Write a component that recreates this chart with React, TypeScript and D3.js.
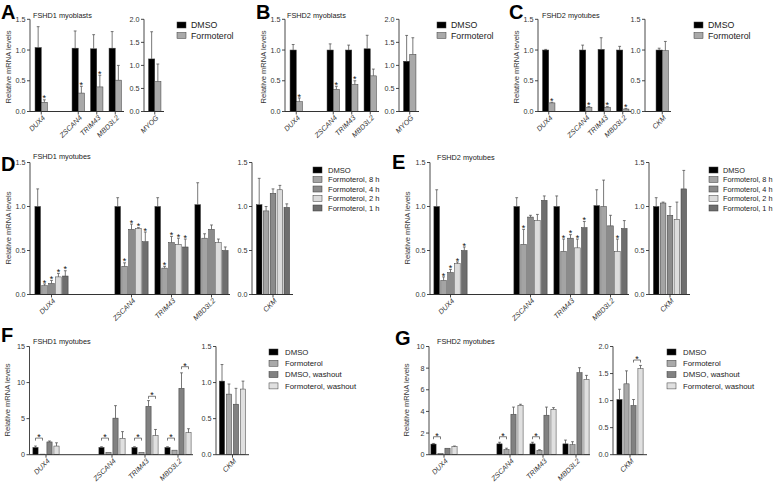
import React from "react";
import * as d3 from "d3";

const FONT = "'Liberation Sans', Arial, Helvetica, sans-serif";

// ---------- categories, series, ticks ----------
const mainGenes = ["DUX4", "ZSCAN4", "TRIM43", "MBD3L2"];
const mainSlots = ["DUX4", "", "ZSCAN4", "TRIM43", "MBD3L2"];
const subMyog = ["MYOG"];
const subCkm = ["CKM"];

const seriesTwo = ["DMSO", "Formoterol"];
const seriesTime = ["DMSO", "Formoterol, 8 h", "Formoterol, 4 h", "Formoterol, 2 h", "Formoterol, 1 h"];
const seriesWash = ["DMSO", "Formoterol", "DMSO, washout", "Formoterol, washout"];

const colorsTwo = ["#000000", "#a9a9a9"];
const colorsTime = ["#000000", "#a4a4a4", "#8b8b8b", "#dcdcdc", "#6e6e6e"];
const colorsWash = ["#000000", "#a9a9a9", "#818181", "#e0e0e0"];

const ticks15 = [0, 0.5, 1.0, 1.5];
const ticks20 = [0, 0.5, 1.0, 1.5, 2.0];
const ticksF = [0, 5, 10, 15];
const ticksG = [0, 2, 4, 6, 8, 10];

// ---------- A: FSHD1 myoblasts ----------
const aMeans = [[1.04, 0.15], [1.03, 0.3], [1.02, 0.4], [1.03, 0.51]];
const aErr = [[1.38, 0.19], [1.31, 0.41], [1.25, 0.59], [1.3, 0.75]];
const aStars = [[0, 1], [0, 1], [0, 1], [0, 0]];
const aSubMeans = [[1.14, 0.65]];
const aSubErr = [[1.73, 1.03]];

// ---------- B: FSHD2 myoblasts ----------
const bMeans = [[1.0, 0.16], [1.0, 0.36], [1.0, 0.44], [1.02, 0.58]];
const bErr = [[1.09, 0.22], [1.1, 0.41], [1.08, 0.5], [1.24, 0.69]];
const bStars = [[0, 1], [0, 1], [0, 1], [0, 0]];
const bSubMeans = [[1.09, 1.24]];
const bSubErr = [[1.65, 1.6]];

// ---------- C: FSHD2 myotubes ----------
const cMeans = [[1.0, 0.14], [1.0, 0.07], [1.01, 0.07], [1.0, 0.04]];
const cErr = [[1.01, 0.15], [1.08, 0.08], [1.2, 0.08], [1.06, 0.05]];
const cStars = [[0, 1], [0, 1], [0, 1], [0, 1]];
const cSubMeans = [[1.0, 0.99]];
const cSubErr = [[1.03, 1.14]];

// ---------- D: FSHD1 myotubes, time course ----------
const dMeans = [
  [1.0, 0.1, 0.125, 0.2, 0.21],
  [1.0, 0.32, 0.74, 0.75, 0.6],
  [1.0, 0.3, 0.59, 0.57, 0.54],
  [1.02, 0.64, 0.74, 0.59, 0.5],
];
const dErr = [
  [1.2, 0.12, 0.16, 0.24, 0.27],
  [1.1, 0.36, 0.8, 0.76, 0.71],
  [1.1, 0.32, 0.66, 0.64, 0.63],
  [1.27, 0.69, 0.79, 0.63, 0.54],
];
const dStars = [
  [0, 1, 1, 1, 1],
  [0, 1, 1, 1, 1],
  [0, 1, 1, 1, 1],
  [0, 0, 0, 0, 0],
];
const dSubMeans = [[1.02, 0.95, 1.15, 1.19, 0.99]];
const dSubErr = [[1.32, 1.0, 1.2, 1.24, 1.03]];

// ---------- E: FSHD2 myotubes, time course ----------
const eMeans = [
  [1.0, 0.16, 0.25, 0.35, 0.5],
  [1.0, 0.57, 0.88, 0.84, 1.07],
  [1.0, 0.49, 0.64, 0.53, 0.76],
  [1.01, 1.0, 0.78, 0.49, 0.75],
];
const eErr = [
  [1.19, 0.2, 0.285, 0.37, 0.54],
  [1.1, 0.74, 0.9, 0.91, 1.12],
  [1.12, 0.63, 0.68, 0.63, 0.83],
  [1.19, 1.3, 0.9, 0.63, 0.84],
];
const eStars = [
  [0, 1, 1, 1, 1],
  [0, 1, 0, 0, 0],
  [0, 1, 1, 1, 1],
  [0, 0, 0, 1, 0],
];
const eSubMeans = [[1.0, 1.04, 0.9, 0.855, 1.2]];
const eSubErr = [[1.1, 1.05, 1.0, 1.05, 1.41]];

// ---------- F: FSHD1 myotubes, washout ----------
const fMeans = [[1.0, 0.08, 1.77, 1.2], [1.0, 0.33, 5.07, 2.28], [1.0, 0.33, 6.7, 2.65], [1.0, 0.63, 9.2, 3.05]];
const fErr = [[1.2, 0.08, 1.9, 1.65], [1.1, 0.33, 6.8, 3.2], [1.1, 0.33, 7.5, 3.5], [1.1, 0.63, 11.35, 3.6]];
// [gene, series i, series j, level]
const fBrackets = [[0, 0, 1, 2.3], [1, 0, 1, 2.3], [2, 0, 1, 2.3], [2, 2, 3, 8.1], [3, 0, 1, 2.3], [3, 2, 3, 12.2]];
const fSubMeans = [[1.02, 0.84, 0.7, 0.91]];
const fSubErr = [[1.25, 0.98, 0.92, 1.02]];

// ---------- G: FSHD2 myotubes, washout ----------
const gMeans = [[0.98, 0.12, 0.6, 0.74], [1.0, 0.48, 3.74, 4.57], [1.0, 0.4, 3.65, 4.2], [1.0, 0.92, 7.58, 6.96]];
const gErr = [[1.04, 0.12, 0.64, 0.8], [1.15, 0.6, 4.4, 4.66], [1.15, 0.46, 4.4, 4.35], [1.35, 1.2, 8.04, 7.33]];
const gBrackets = [[0, 0, 1, 1.66], [1, 0, 1, 1.66], [2, 0, 1, 1.66]];
const gSubMeans = [[1.02, 1.31, 0.91, 1.59]];
const gSubErr = [[1.21, 1.55, 1.02, 1.65]];
const gSubBrackets = [[0, 2, 3, 1.75]];

const AX = "#333";
const fmt1 = d3.format(".1f");
const fmt0 = d3.format("d");

function Block(props: any) {
  const { cats, slots, means, err, stars, brackets, ticks, fmt, lay, colors } = props;
  const y = d3.scaleLinear().domain([0, ticks[ticks.length - 1]]).range([lay.y0, lay.yTop]);
  const x = d3.scaleBand<string>().domain(slots).range([lay.r0, lay.r1]);
  const n = colors.length;
  const gw = (n - 1) * lay.pitch + lay.barW;
  const left = (gi: number, si: number) => (x(cats[gi]) as number) + (x.bandwidth() - gw) / 2 + si * lay.pitch;
  const mid = (gi: number, si: number) => left(gi, si) + lay.barW / 2;
  const center = (gi: number) => (x(cats[gi]) as number) + x.bandwidth() / 2;
  const y0 = y(0);
  return (
    <g>
      {means.map((row: number[], gi: number) =>
        row.map((v: number, si: number) => {
          const e = err[gi][si];
          const cx = mid(gi, si);
          const hasErr = y(v) - y(e) > 0.6;
          const top = Math.min(y(v), y(e));
          return (
            <g key={`${gi}-${si}`}>
              <rect x={left(gi, si)} y={y(v)} width={lay.barW} height={y0 - y(v)} fill={colors[si]} stroke="#3a3a3a" strokeWidth={0.5} />
              {hasErr && (
                <g stroke="#555" strokeWidth={0.8}>
                  <line x1={cx} x2={cx} y1={y(v)} y2={y(e)} />
                  <line x1={cx - 1.4} x2={cx + 1.4} y1={y(e)} y2={y(e)} />
                </g>
              )}
              {stars && stars[gi][si] ? (
                <text x={cx} y={top + 1.6} fontSize={9} textAnchor="middle" fill="#111" fontFamily={FONT}>*</text>
              ) : null}
            </g>
          );
        })
      )}
      {(brackets || []).map((b: number[], k: number) => {
        const x1 = mid(b[0], b[1]);
        const x2 = mid(b[0], b[2]);
        const yl = y(b[3]);
        return (
          <g key={`b${k}`}>
            <path d={`M${x1},${yl + 2.5}V${yl}H${x2}V${yl + 2.5}`} fill="none" stroke="#444" strokeWidth={0.7} />
            <text x={(x1 + x2) / 2} y={yl + 2} fontSize={9} textAnchor="middle" fill="#111" fontFamily={FONT}>*</text>
          </g>
        );
      })}
      {/* y axis */}
      <line x1={lay.axisX} x2={lay.axisX} y1={y0} y2={y(ticks[ticks.length - 1])} stroke={AX} strokeWidth={0.9} />
      {ticks.map((t: number) => (
        <g key={`t${t}`}>
          <line x1={lay.axisX - 3} x2={lay.axisX} y1={y(t)} y2={y(t)} stroke={AX} strokeWidth={0.9} />
          <text x={lay.axisX - 4.5} y={y(t)} dy="0.35em" fontSize={7.2} textAnchor="end" fill="#333" fontFamily={FONT}>
            {fmt(t)}
          </text>
        </g>
      ))}
      {/* x axis */}
      <line x1={lay.axisX} x2={lay.axisEnd} y1={y0} y2={y0} stroke={AX} strokeWidth={1} />
      {cats.map((c: string, gi: number) => (
        <g key={c}>
          <line x1={center(gi)} x2={center(gi)} y1={y0} y2={y0 + 3} stroke={AX} strokeWidth={0.9} />
          <text
            transform={`translate(${center(gi) + 2.5},${y0 + 5}) rotate(-45)`}
            dy="0.35em"
            fontSize={7.2}
            fontStyle="italic"
            textAnchor="end"
            fill="#333"
            fontFamily={FONT}
          >
            {c}
          </text>
        </g>
      ))}
    </g>
  );
}

function Legend({ labels, colors, x, y, dy, tdx, fs }: any) {
  return (
    <g>
      {labels.map((l: string, i: number) => (
        <g key={l}>
          <rect x={x} y={y + i * dy - 3} width={9} height={6} fill={colors[i]} stroke="#3a3a3a" strokeWidth={0.5} />
          <text x={x + tdx} y={y + i * dy} dy="0.35em" fontSize={fs} fill="#222" fontFamily={FONT}>
            {l}
          </text>
        </g>
      ))}
    </g>
  );
}

function Panel(props: any) {
  const { letter, letterPos, title, titlePos, ylabelPos, main, sub, legend } = props;
  return (
    <g>
      <text x={letterPos[0]} y={letterPos[1]} fontSize={20} fontWeight="bold" fontFamily={FONT} fill="#000">
        {letter}
      </text>
      <text x={titlePos[0]} y={titlePos[1]} fontSize={7.3} fontFamily={FONT} fill="#222">
        {title}
      </text>
      <text
        transform={`translate(${ylabelPos[0]},${ylabelPos[1]}) rotate(-90)`}
        dy="0.35em"
        textAnchor="middle"
        fontSize={7.6}
        fontFamily={FONT}
        fill="#333"
      >
        Relative mRNA levels
      </text>
      <Block {...main} />
      <Block {...sub} />
      <Legend {...legend} />
    </g>
  );
}

const TOP = { y0: 111.5, yTop: 19.3 };
const MID = { y0: 294.5, yTop: 162.5 };
const BOT = { y0: 454.7, yTop: 346.5 };

export default function App() {
  const two = { barW: 6.2, pitch: 6.2 };
  const five = { barW: 5.6, pitch: 6.9 };
  const four = { barW: 5.2, pitch: 7 };
  return (
    <svg width={778} height={484} style={{ position: "absolute", left: 0, top: 0, background: "#fff" }}>
      <rect width={778} height={484} fill="#fff" />
      {/* A */}
      <Panel
        letter="A" letterPos={[1, 18.5]} title="FSHD1 myoblasts" titlePos={[33, 17.5]} ylabelPos={[8, 67]}
        main={{ cats: mainGenes, slots: mainSlots, means: aMeans, err: aErr, stars: aStars, ticks: ticks15, fmt: fmt1, colors: colorsTwo,
          lay: { ...TOP, ...two, axisX: 30, r0: 32, r1: 124.5, axisEnd: 124 } }}
        sub={{ cats: subMyog, slots: subMyog, means: aSubMeans, err: aSubErr, ticks: ticks20, fmt: fmt1, colors: colorsTwo,
          lay: { ...TOP, ...two, axisX: 144, r0: 145.5, r1: 164, axisEnd: 164 } }}
        legend={{ labels: seriesTwo, colors: colorsTwo, x: 177, y: 25, dy: 10.5, tdx: 14, fs: 8.8 }}
      />
      {/* B */}
      <Panel
        letter="B" letterPos={[256, 18.5]} title="FSHD2 myoblasts" titlePos={[287, 17.5]} ylabelPos={[263, 67]}
        main={{ cats: mainGenes, slots: mainSlots, means: bMeans, err: bErr, stars: bStars, ticks: ticks15, fmt: fmt1, colors: colorsTwo,
          lay: { ...TOP, ...two, axisX: 285, r0: 287, r1: 379.5, axisEnd: 379 } }}
        sub={{ cats: subMyog, slots: subMyog, means: bSubMeans, err: bSubErr, ticks: ticks20, fmt: fmt1, colors: colorsTwo,
          lay: { ...TOP, ...two, axisX: 399, r0: 400.5, r1: 419, axisEnd: 419 } }}
        legend={{ labels: seriesTwo, colors: colorsTwo, x: 437, y: 25, dy: 10.5, tdx: 14, fs: 8.8 }}
      />
      {/* C */}
      <Panel
        letter="C" letterPos={[509, 18.5]} title="FSHD2 myotubes" titlePos={[542, 17.5]} ylabelPos={[516, 67]}
        main={{ cats: mainGenes, slots: mainSlots, means: cMeans, err: cErr, stars: cStars, ticks: ticks15, fmt: fmt1, colors: colorsTwo,
          lay: { ...TOP, ...two, axisX: 538, r0: 539.5, r1: 632, axisEnd: 631 } }}
        sub={{ cats: subCkm, slots: subCkm, means: cSubMeans, err: cSubErr, ticks: ticks15, fmt: fmt1, colors: colorsTwo,
          lay: { ...TOP, ...two, axisX: 645, r0: 653, r1: 671.5, axisEnd: 671 } }}
        legend={{ labels: seriesTwo, colors: colorsTwo, x: 694, y: 25, dy: 10.5, tdx: 14, fs: 8.8 }}
      />
      {/* D */}
      <Panel
        letter="D" letterPos={[1, 171]} title="FSHD1 myotubes" titlePos={[33, 159]} ylabelPos={[8, 228]}
        main={{ cats: mainGenes, slots: mainSlots, means: dMeans, err: dErr, stars: dStars, ticks: ticks15, fmt: fmt1, colors: colorsTime,
          lay: { ...MID, ...five, axisX: 30, r0: 31.5, r1: 231.5, axisEnd: 230 } }}
        sub={{ cats: subCkm, slots: subCkm, means: dSubMeans, err: dSubErr, ticks: ticks15, fmt: fmt1, colors: colorsTime,
          lay: { ...MID, ...five, axisX: 252, r0: 253, r1: 293, axisEnd: 293 } }}
        legend={{ labels: seriesTime, colors: colorsTime, x: 313, y: 170, dy: 9.5, tdx: 15, fs: 7.6 }}
      />
      {/* E */}
      <Panel
        letter="E" letterPos={[392, 169]} title="FSHD2 myotubes" titlePos={[437, 160]} ylabelPos={[407, 228]}
        main={{ cats: mainGenes, slots: mainSlots, means: eMeans, err: eErr, stars: eStars, ticks: ticks15, fmt: fmt1, colors: colorsTime,
          lay: { ...MID, ...five, axisX: 430, r0: 430.5, r1: 630.5, axisEnd: 629 } }}
        sub={{ cats: subCkm, slots: subCkm, means: eSubMeans, err: eSubErr, ticks: ticks15, fmt: fmt1, colors: colorsTime,
          lay: { ...MID, ...five, axisX: 649, r0: 650, r1: 690, axisEnd: 690 } }}
        legend={{ labels: seriesTime, colors: colorsTime, x: 709, y: 170, dy: 9.5, tdx: 14, fs: 7.3 }}
      />
      {/* F */}
      <Panel
        letter="F" letterPos={[1, 342]} title="FSHD1 myotubes" titlePos={[33, 344]} ylabelPos={[7.5, 400]}
        main={{ cats: mainGenes, slots: mainSlots, means: fMeans, err: fErr, brackets: fBrackets, ticks: ticksF, fmt: fmt0, colors: colorsWash,
          lay: { ...BOT, ...four, axisX: 29.5, r0: 29.5, r1: 194.5, axisEnd: 193 } }}
        sub={{ cats: subCkm, slots: subCkm, means: fSubMeans, err: fSubErr, ticks: ticks15, fmt: fmt1, colors: colorsWash,
          lay: { ...BOT, ...four, axisX: 216, r0: 216, r1: 249, axisEnd: 249 } }}
        legend={{ labels: seriesWash, colors: colorsWash, x: 269, y: 352, dy: 11.3, tdx: 16, fs: 7.8 }}
      />
      {/* G */}
      <Panel
        letter="G" letterPos={[395, 345]} title="FSHD2 myotubes" titlePos={[437, 344]} ylabelPos={[406, 400]}
        main={{ cats: mainGenes, slots: mainSlots, means: gMeans, err: gErr, brackets: gBrackets, ticks: ticksG, fmt: fmt0, colors: colorsWash,
          lay: { ...BOT, ...four, axisX: 429, r0: 427.5, r1: 592.5, axisEnd: 590 } }}
        sub={{ cats: subCkm, slots: subCkm, means: gSubMeans, err: gSubErr, brackets: gSubBrackets, ticks: ticks20, fmt: fmt1, colors: colorsWash,
          lay: { ...BOT, ...four, axisX: 613, r0: 613.5, r1: 646.5, axisEnd: 647 } }}
        legend={{ labels: seriesWash, colors: colorsWash, x: 667, y: 352, dy: 11.3, tdx: 16, fs: 7.8 }}
      />
    </svg>
  );
}
